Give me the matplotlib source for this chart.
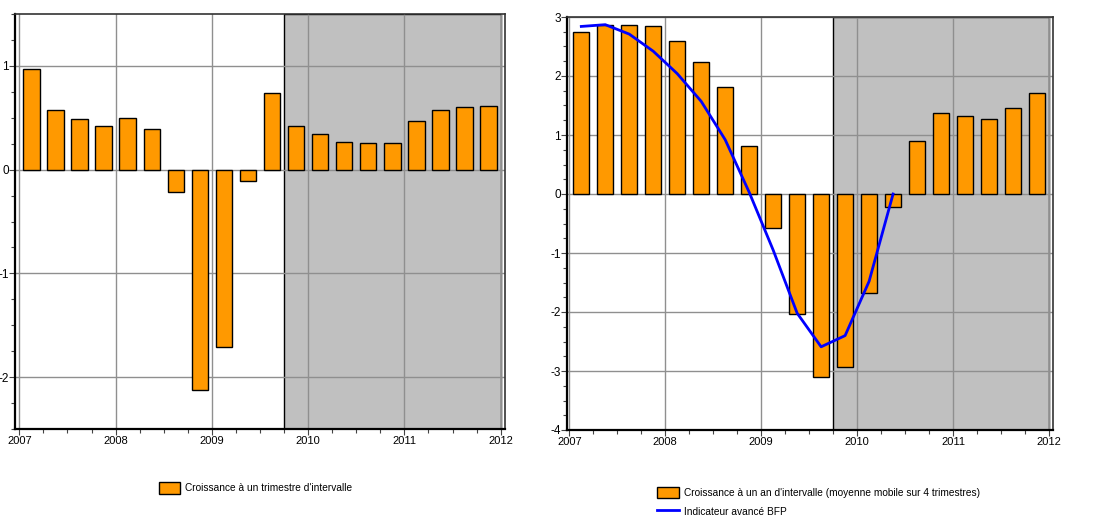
import matplotlib
matplotlib.use("Agg")
import matplotlib.pyplot as plt
from matplotlib.ticker import MultipleLocator
import numpy as np

plt.rcParams['font.family'] = ['Liberation Sans', 'DejaVu Sans']
plt.rcParams['axes.unicode_minus'] = False

# quarterly positions (centre of each quarter), 2007Q1 .. 2011Q4
quarters = 2007.125 + 0.25 * np.arange(20)

# left chart: growth vs previous quarter
growth_q = [0.97, 0.57, 0.49, 0.42, 0.50, 0.39, -0.22, -2.12, -1.71, -0.11,
            0.74, 0.42, 0.34, 0.27, 0.26, 0.26, 0.47, 0.57, 0.60, 0.61]

# right chart: year-on-year growth (4-quarter moving average)
growth_y = [2.74, 2.87, 2.86, 2.84, 2.59, 2.24, 1.82, 0.82, -0.57, -2.03,
            -3.11, -2.93, -1.68, -0.22, 0.90, 1.37, 1.32, 1.27, 1.45, 1.72]

# leading indicator BFP (ends 2010Q2)
bfp = [2.84, 2.87, 2.71, 2.42, 2.04, 1.57, 0.92, 0.03, -0.95, -2.02,
       -2.59, -2.40, -1.48, 0.0]

years = [2007, 2008, 2009, 2010, 2011, 2012]
forecast_start = 2009.75
forecast_end = 2012.0

label_q = "Croissance à un trimestre d'intervalle"
label_y = "Croissance à un an d'intervalle (moyenne mobile sur 4 trimestres)"
label_bfp = "Indicateur avancé BFP"

orange = '#FF9900'
grid_col = '#8f8f8f'

fig = plt.figure(figsize=(11.1, 5.15), dpi=100)
ax1 = fig.add_axes([15 / 1110, 86 / 515, 490 / 1110, 415 / 515])
ax2 = fig.add_axes([567 / 1110, 85 / 515, 486 / 1110, 413 / 515])


def style(ax, ylo, yhi, xlo, xhi):
    ax.axvspan(forecast_start, forecast_end, facecolor='#C0C0C0',
               edgecolor='black', linewidth=1.0, zorder=0.2)
    ax.set_xlim(xlo, xhi)
    ax.set_ylim(ylo, yhi)
    ax.set_xticks(years)
    ax.set_xticklabels([str(y) for y in years])
    ax.xaxis.set_minor_locator(MultipleLocator(0.25))
    ax.yaxis.set_major_locator(MultipleLocator(1))
    ax.yaxis.set_minor_locator(MultipleLocator(0.25))
    ax.set_axisbelow(True)
    ax.grid(True, which='major', color=grid_col, linewidth=1.0)
    ax.tick_params(which='major', length=4, width=0.8, labelsize=8,
                   pad=1, color='#444444')
    ax.tick_params(axis='y', which='major', labelsize=8.5, pad=0.5)
    ax.tick_params(which='minor', length=3, width=0.8, color='#444444')
    for side in ['left', 'bottom']:
        ax.spines[side].set_linewidth(1.6)
        ax.spines[side].set_color('black')
    for side in ['top', 'right']:
        ax.spines[side].set_linewidth(1.2)
        ax.spines[side].set_color('#333333')


style(ax1, -2.5, 1.5, 2006.955, 2012.045)
ax1.bar(quarters, growth_q, width=0.17, color=orange, edgecolor='black',
        linewidth=1.0, zorder=2, label=label_q)

style(ax2, -4, 3, 2006.976, 2012.042)
ax2.bar(quarters, growth_y, width=0.17, color=orange, edgecolor='black',
        linewidth=1.0, zorder=2, label=label_y)
ax2.plot(quarters[:len(bfp)], bfp, color='#0000FF', linewidth=2.0,
         zorder=3, label=label_bfp)

fig.legend(handles=ax1.get_legend_handles_labels()[0],
           labels=[label_q], loc='center left',
           bbox_to_anchor=(150 / 1110, 1 - 488 / 515), frameon=False,
           fontsize=7.3, handlelength=2.1, handleheight=1.3, handletextpad=0.5)

h, l = ax2.get_legend_handles_labels()
order = [1, 0]
fig.legend(handles=[h[i] for i in order], labels=[l[i] for i in order],
           loc='upper left', bbox_to_anchor=(648 / 1110, 1 - 478 / 515),
           frameon=False, fontsize=7.3, handlelength=2.2, handleheight=1.3,
           handletextpad=0.5, labelspacing=0.75)

fig.savefig('out.png', dpi=100)
